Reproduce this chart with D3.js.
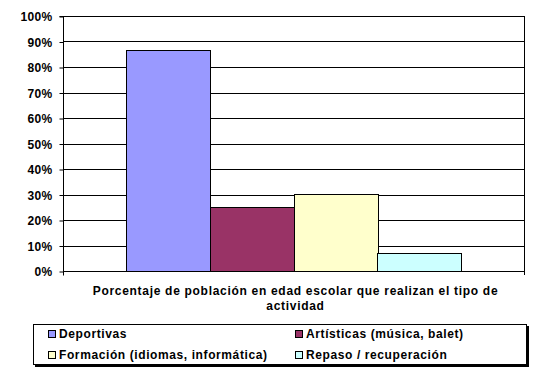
<!DOCTYPE html>
<html><head><meta charset="utf-8">
<script src="https://cdn.jsdelivr.net/npm/d3@7/dist/d3.min.js"></script>
<style>body{margin:0;background:#fff}svg{display:block}text{font-family:"Liberation Sans",Arial,sans-serif;font-weight:bold;font-size:12px;fill:#000}</style>
</head><body><svg id="c" width="539" height="381"></svg>
<script>
const categories = ["Porcentaje de población en edad escolar que realizan el tipo de actividad"];
const seriesNames = ["Deportivas","Artísticas (música, balet)","Formación (idiomas, informática)","Repaso / recuperación"];
const seriesValues = [86.5, 25.2, 30.1, 6.9];
const seriesColors = ["#9999ff","#993366","#ffffcc","#ccffff"];
const yTicks = [0,10,20,30,40,50,60,70,80,90,100];
const titleLines = ["Porcentaje de población en edad escolar que realizan el tipo de","actividad"];

const svg = d3.select("#c");
const L=63, R=524, T=16, B=271;
const y = d3.scaleLinear().domain([0,100]).range([B,T]);
// gap width 150% of bar width
const barW = (R-L)/(seriesNames.length+1.5);
const x1 = d3.scaleBand().domain(seriesNames).range([L+barW*0.75, R-barW*0.75]);

// gridlines
svg.append("g").selectAll("line").data(yTicks).join("line")
  .attr("x1",L).attr("x2",R).attr("y1",d=>Math.round(y(d))+0.5).attr("y2",d=>Math.round(y(d))+0.5)
  .attr("stroke","#000").attr("stroke-width",1);
// right border
svg.append("line").attr("x1",R+0.5).attr("x2",R+0.5).attr("y1",T).attr("y2",B+4).attr("stroke","#000");

// bars
svg.append("g").selectAll("rect").data(seriesValues).join("rect")
  .attr("x",(d,i)=>Math.round(x1(seriesNames[i]))+0.5)
  .attr("width",Math.round(x1.bandwidth()))
  .attr("y",d=>Math.round(y(d))+0.5)
  .attr("height",d=>Math.round(y(0))-Math.round(y(d)))
  .attr("fill",(d,i)=>seriesColors[i]).attr("stroke","#000").attr("stroke-width",1);

// y axis
const ya = d3.axisLeft(y).tickValues(yTicks).tickFormat(d=>d+"%").tickSize(4).tickPadding(7);
const yg = svg.append("g").attr("transform",`translate(${L+0.5},0.5)`).call(ya);
yg.select(".domain").attr("d",`M-4,${T}H0V${B+4}`).attr("stroke","#000");
yg.selectAll("text").style("font-size","12px").style("letter-spacing","0.3px").attr("dy","0.36em");
yg.selectAll(".tick line").attr("stroke","#000");

// x axis tick at left edge
svg.append("line").attr("x1",L+0.5).attr("x2",L+0.5).attr("y1",B).attr("y2",B+4).attr("stroke","#000");

// category title
svg.append("g").selectAll("text").data(titleLines).join("text")
  .attr("x",(L+R)/2+2).attr("y",(d,i)=>295+i*15).attr("text-anchor","middle")
  .style("letter-spacing","0.7px").text(d=>d);

// legend
const lg = svg.append("g");
lg.append("rect").attr("x",35).attr("y",326).attr("width",494).attr("height",41).attr("fill","#000");
lg.append("rect").attr("x",33.5).attr("y",324.5).attr("width",493).attr("height",40).attr("fill","#fff").attr("stroke","#000");
const lx=[48,295], ly=[334,355];
const items = lg.selectAll("g.it").data(seriesNames).join("g").attr("class","it")
  .attr("transform",(d,i)=>`translate(${lx[i%2]},${ly[Math.floor(i/2)]})`);
items.append("rect").attr("x",0.5).attr("y",-3.5).attr("width",7).attr("height",7)
  .attr("fill",(d,i)=>seriesColors[i]).attr("stroke","#000");
items.append("text").attr("x",11).attr("dy","0.36em").style("letter-spacing","0.6px").text(d=>d);
</script></body></html>
